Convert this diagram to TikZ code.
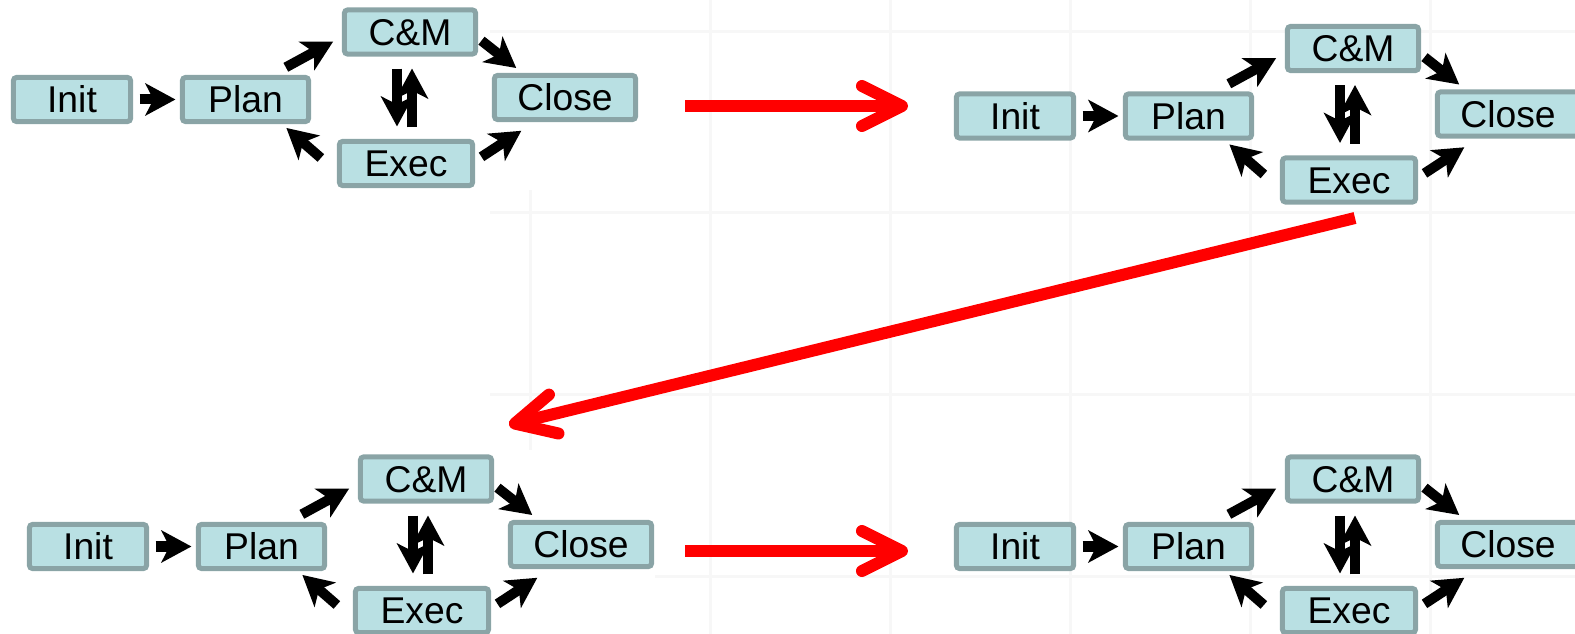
\documentclass[tikz,border=0pt]{standalone}
\usepackage{fontspec}
\setmainfont{Liberation Sans}
\usepackage{tikz}
\usetikzlibrary{positioning}
\usetikzlibrary{arrows.meta}

\definecolor{boxfill}{RGB}{185,224,227}
\definecolor{boxline}{RGB}{138,164,166}

\begin{document}
\begin{tikzpicture}[
x = 0.01cm, y = -0.01cm,
  phase/.style = {draw = boxline, fill = boxfill, line width = 0.05cm, rounded corners = 0.03cm,
    minimum height = 0.44cm, inner sep = 0pt, text height = 0.265cm, text depth = 0cm,
    font = \fontsize{10.6}{12}\selectfont},
  flow/.style = {line width = 0.1cm, -{Stealth[length = 0.3cm, width = 0.32cm, inset = 0.08cm]}},
  jump/.style = {draw = red, line width = 0.12cm, -{Straight Barb[round, length = 0.4cm, width = 0.4cm]}},
  slide/.style = {black!3, line width = 0.03cm}
]
\useasboundingbox (0,0) rectangle (1575,634);
\clip (0,0) rectangle (1575,634);
% faint grid of the slide
\draw[slide] (530,190) -- (530,450);
\foreach \gx in {710,890,...,1430} \draw[slide] (\gx,0) -- (\gx,634);
\foreach \gy in {32,213,395} \draw[slide] (490,\gy) -- (1575,\gy);
\draw[slide] (655,577) -- (1575,577);

\foreach \c/\dx/\dy in {a/0/0, b/943/16.5, c/16/447, d/943/447} {
  \begin{scope}[shift = {(\dx,\dy)}]
    \node[phase, minimum width = 1.17cm] (init\c) at (72,99.5) {Init};
    \node[phase, minimum width = 1.26cm] (plan\c) at (245.5,99.5) {Plan};
    \node[phase, minimum width = 1.31cm] (cm\c) at (410,32) {C\&M};
    \node[phase, minimum width = 1.33cm] (exec\c) at (406,163.5) {Exec};
    \node[phase, minimum width = 1.41cm] (close\c) at (565,97.5) {Close};
    \draw[flow, shorten <= 0.065cm, shorten >= 0.045cm] (init\c.east) -- (plan\c.west);
    \draw[flow, shorten <= 0.16cm, shorten >= 0.1cm] (plan\c.43) -- (cm\c.184);
    \draw[flow, shorten <= 0.044cm, shorten >= 0.08cm] (cm\c.-5) -- (close\c.150);
    \draw[flow, shorten <= 0.077cm, shorten >= 0.16cm] (exec\c.2) -- (close\c.219);
    \draw[flow, shorten <= 0.213cm, shorten >= 0.06cm] (exec\c.187) -- (plan\c.-34);
    \draw[flow, shorten <= 0.12cm, shorten >= 0.125cm] ([shift = {(-13,0)}]cm\c.south) -- ([shift = {(-9,0)}]exec\c.north);
    \draw[flow, shorten <= 0.115cm, shorten >= 0.12cm] ([shift = {(6,0)}]exec\c.north) -- ([shift = {(2,0)}]cm\c.south);
  \end{scope}
}

% red steps between the cycles
\coordinate (leave1) at (685,106);
\coordinate (enter1) at (908,106);
\coordinate (leave2) at (1355,218);
\coordinate (enter2) at (509,425);
\coordinate (leave3) at (685,551);
\coordinate (enter3) at (908,551);
\draw[jump] (leave1) -- (enter1);
\draw[jump] (leave2) -- (enter2);
\draw[jump] (leave3) -- (enter3);
\end{tikzpicture}
\end{document}
